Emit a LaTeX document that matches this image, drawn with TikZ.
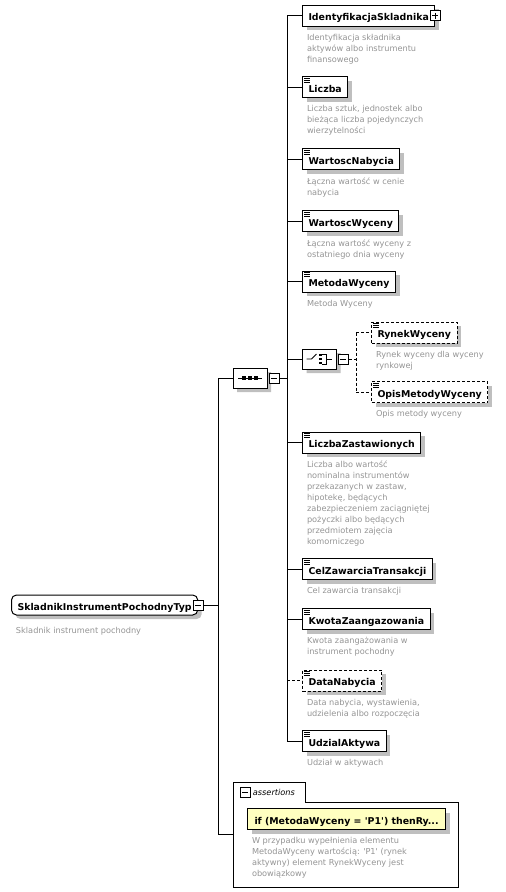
\documentclass[tikz,border=0pt]{standalone}
\usepackage{fontspec}
\setmainfont{DejaVu Sans}
\usetikzlibrary{positioning,shapes.misc,shadows}

\begin{document}
\begin{tikzpicture}[
    x=1pt, y=-1pt,
    line width=1pt,
    boxshadow/.style={general shadow={fill=black!25, shadow xshift=4pt, shadow yshift=-4pt}},
    elem/.style={draw, fill=white, boxshadow, anchor=west, minimum height=21pt,
        inner xsep=6pt, inner ysep=0pt, text height=10pt, text depth=0pt,
        font=\bfseries\fontsize{9.4}{11}\selectfont},
    optelem/.style={elem, dash pattern=on 3pt off 2pt},
    desc/.style={below right=7pt and 4.5pt of #1, inner sep=0pt, align=left,
        text=black!42, font=\fontsize{8.2}{11}\selectfont},
    model/.style={draw, fill=white, boxshadow, chamfered rectangle,
        chamfered rectangle sep=5pt, minimum width=34pt, minimum height=20pt, inner sep=0pt},
    tog/.style={draw, fill=white, line width=0.8pt, minimum size=10pt, inner sep=0pt},
    tminus/.style={tog, path picture={
        \draw[line width=0.8pt] ([xshift=2pt]path picture bounding box.west)
            -- ([xshift=-2pt]path picture bounding box.east);}},
    tplus/.style={tog, path picture={
        \draw[line width=0.8pt] ([xshift=2pt]path picture bounding box.west)
            -- ([xshift=-2pt]path picture bounding box.east);
        \draw[line width=0.8pt] ([yshift=-2pt]path picture bounding box.north)
            -- ([yshift=2pt]path picture bounding box.south);}},
    opt/.style={dash pattern=on 3pt off 2pt},
    ]

    \useasboundingbox (0,0) rectangle (506,892);

    % --- ルートの型 ---
    \node[draw, fill=white, boxshadow, rounded corners=5pt, anchor=west, minimum height=20pt,
        inner xsep=6pt, inner ysep=0pt, text height=10pt, text depth=0pt,
        font=\bfseries\fontsize{9.4}{11}\selectfont] (root) at (11,605) {SkladnikInstrumentPochodnyTyp};
    \node[tminus] (roottog) at (root.east) {};
    \node[desc=root.south west, yshift=-4pt] (rootdesc) {Skladnik instrument pochodny};

    % --- sequence ---
    \node[model] (seq) at (250,378) {};
    \node[tminus, right=1pt of seq] (seqtog) {};
    \draw[line width=0.8pt] ([shift={(-12,0)}]seq.center) -- ([shift={(12,0)}]seq.center);
    \foreach \dx in {-6,0,6}
        \fill ([shift={(\dx,0)}]seq.center) +(-1.7,-1.7) rectangle +(1.7,1.7);

    % --- 子要素 ---
    \node[elem] (ident) at (302,15.5) {IdentyfikacjaSkladnika};
    \node[tplus] (identtog) at (ident.east) {};
    \node[desc=ident.south west] (identdesc) {Identyfikacja składnika\\aktywów albo instrumentu\\finansowego};

    \node[elem] (liczba) at (302,87) {Liczba};
    \node[desc=liczba.south west] (liczbadesc) {Liczba sztuk, jednostek albo\\bieżąca liczba pojedynczych\\wierzytelności};

    \node[elem] (wnabycia) at (302,159) {WartoscNabycia};
    \node[desc=wnabycia.south west] (wnabyciadesc) {Łączna wartość w cenie\\nabycia};

    \node[elem] (wwyceny) at (302,221) {WartoscWyceny};
    \node[desc=wwyceny.south west] (wwycenydesc) {Łączna wartość wyceny z\\ostatniego dnia wyceny};

    \node[elem] (metoda) at (302,281.5) {MetodaWyceny};
    \node[desc=metoda.south west] (metodadesc) {Metoda Wyceny};

    % choice
    \node[model, anchor=west] (choice) at (302,359) {};
    \node[tminus, right=1pt of choice] (choicetog) {};
    \draw[line width=0.8pt] ([shift={(-13,0)}]choice.center) -- ++(5,0) -- ++(5,-5);
    \foreach \dy in {-4,0,4}
        \fill ([shift={(1,\dy)}]choice.center) +(-1.2,-1.2) rectangle +(1.2,1.2);
    \draw[line width=0.8pt] ([shift={(2.5,-5)}]choice.center) -- ++(4,0) -- ++(0,10) -- ++(-4,0);
    \draw[line width=0.8pt] ([shift={(6.5,0)}]choice.center) -- ++(6,0);

    \node[optelem] (rynek) at (371,332.5) {RynekWyceny};
    \node[desc=rynek.south west] (rynekdesc) {Rynek wyceny dla wyceny\\rynkowej};

    \node[optelem] (opis) at (371,392) {OpisMetodyWyceny};
    \node[desc=opis.south west] (opisdesc) {Opis metody wyceny};

    \node[elem] (liczbazast) at (302,442.5) {LiczbaZastawionych};
    \node[desc=liczbazast.south west] (liczbazastdesc) {Liczba albo wartość\\nominalna instrumentów\\przekazanych w zastaw,\\hipotekę, będących\\zabezpieczeniem zaciągniętej\\pożyczki albo będących\\przedmiotem zajęcia\\komorniczego};

    \node[elem] (cel) at (302,569) {CelZawarciaTransakcji};
    \node[desc=cel.south west] (celdesc) {Cel zawarcia transakcji};

    \node[elem] (kwota) at (302,619) {KwotaZaangazowania};
    \node[desc=kwota.south west] (kwotadesc) {Kwota zaangażowania w\\instrument pochodny};

    \node[optelem] (data) at (302,680.5) {DataNabycia};
    \node[desc=data.south west] (datadesc) {Data nabycia, wystawienia,\\udzielenia albo rozpoczęcia};

    \node[elem] (udzial) at (302,741) {UdzialAktywa};
    \node[desc=udzial.south west] (udzialdesc) {Udział w aktywach};

    % 要素アイコン (≡)
    \foreach \n in {liczba,wnabycia,wwyceny,metoda,rynek,opis,liczbazast,cel,kwota,data,udzial}
        \foreach \d in {2,4,6}
            \draw[line width=0.7pt] ([shift={(2,\d)}]\n.north west) -- ++(6,0);

    % --- assertions ---
    \draw[fill=white] (233,782) -- (305,782) -- (305,802) -- (458,802) -- (458,887) -- (233,887) -- cycle;
    \node[tminus] (asrttog) at (245,792.5) {};
    \node[right=2pt of asrttog, inner sep=0pt, font=\itshape\fontsize{8.2}{11}\selectfont] (asrttab) {assertions};
    \node[elem, fill={rgb,255:red,255;green,255;blue,192}, inner xsep=7pt] (asrt) at (247,819)
        {if (MetodaWyceny = \textquotesingle P1\textquotesingle) thenRy...};
    \node[desc=asrt.south west] (asrtdesc) {W przypadku wypełnienia elementu\\MetodaWyceny wartością: \textquotesingle P1\textquotesingle\ (rynek\\aktywny) element RynekWyceny jest\\obowiązkowy};
    \coordinate (asrtin) at (233,834);

    % --- 接続線 ---
    % ルート → sequence, assertions
    \coordinate (rootbus) at (218,605);
    \draw (roottog.east) -- (rootbus);
    \draw (rootbus |- seq.west) -- (rootbus |- asrtin);
    \draw (rootbus |- seq.west) -- (seq.west);
    \draw (rootbus |- asrtin) -- (asrtin);

    % sequence → 子要素
    \coordinate (kids) at (287,378);
    \draw (seqtog.east) -- (kids);
    \draw (kids |- ident.west) -- (kids |- udzial.west);
    \foreach \n in {ident,liczba,wnabycia,wwyceny,metoda,choice,liczbazast,cel,kwota,udzial}
        \draw (kids |- \n.west) -- (\n.west);
    \draw[opt] (kids |- data.west) -- (data.west);

    % choice → RynekWyceny, OpisMetodyWyceny
    \coordinate (alt) at (356,359);
    \draw[opt] (choicetog.east) -- (alt);
    \draw[opt] (alt |- rynek.west) -- (alt |- opis.west);
    \draw[opt] (alt |- rynek.west) -- (rynek.west);
    \draw[opt] (alt |- opis.west) -- (opis.west);

\end{tikzpicture}
\end{document}
